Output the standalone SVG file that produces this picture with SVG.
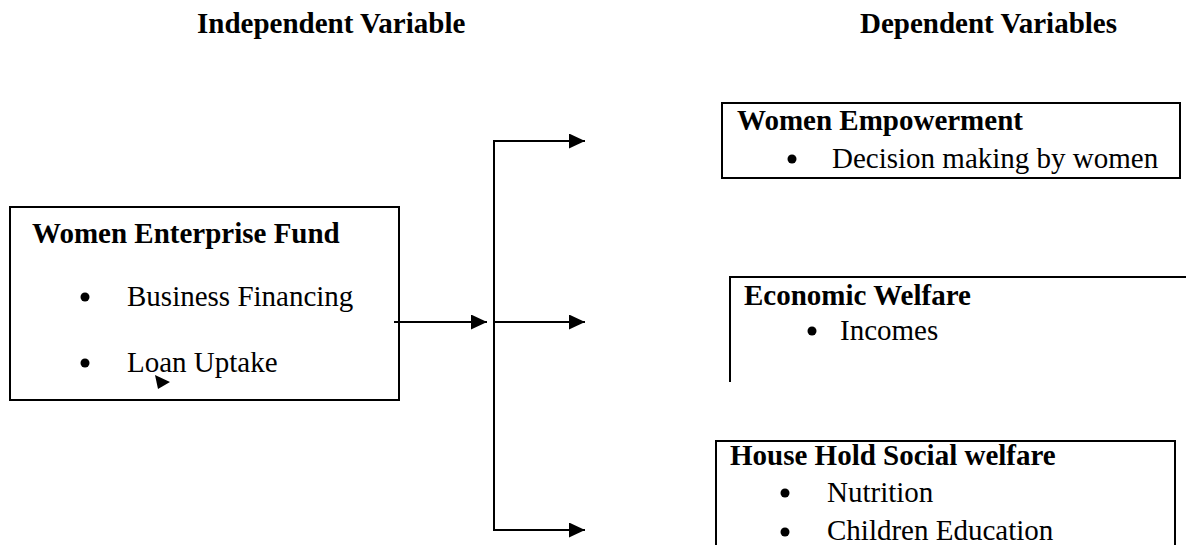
<svg xmlns="http://www.w3.org/2000/svg" width="1186" height="545" viewBox="0 0 1186 545">
<style>
text{font-family:"Liberation Serif","Times New Roman",serif;fill:#000;font-size:29px}
.b{font-weight:bold}
.box{fill:none;stroke:#000;stroke-width:2}
.ln{fill:none;stroke:#000;stroke-width:2}
</style>
<defs>
<marker id="ah" markerWidth="16" markerHeight="15" refX="16" refY="7.5" orient="auto" markerUnits="userSpaceOnUse">
<path d="M0,0 L16,7.5 L0,15 Z" fill="#000"/>
</marker>
</defs>
<rect width="1186" height="545" fill="#fff"/>
<g id="headers">
<text class="b" x="197" y="33">Independent Variable</text>
<text class="b" x="860" y="33">Dependent Variables</text>
</g>
<g id="wef">
<rect class="box" x="10" y="207" width="389" height="193"/>
<text class="b" x="32" y="243">Women Enterprise Fund</text>
<circle cx="85" cy="297" r="4.5"/>
<text x="127" y="306">Business Financing</text>
<circle cx="85" cy="363" r="4.5"/>
<text x="127" y="372">Loan Uptake</text>
<path d="M155,375 L170,382 L158,389 Z" fill="#000"/>
</g>
<g id="connectors">
<line class="ln" x1="394" y1="322" x2="487" y2="322" marker-end="url(#ah)"/>
<polyline class="ln" points="585,141 494,141 494,530 585,530" marker-end="url(#ah)"/>
<line class="ln" x1="494" y1="141" x2="585" y2="141" marker-end="url(#ah)"/>
<line class="ln" x1="494" y1="322" x2="585" y2="322" marker-end="url(#ah)"/>
</g>
<g id="empowerment">
<rect class="box" x="722" y="103" width="458" height="75"/>
<text class="b" x="737" y="130">Women Empowerment</text>
<circle cx="792" cy="159" r="4.5"/>
<text x="832" y="168">Decision making by women</text>
</g>
<g id="economic">
<polyline class="box" points="1186,277 730,277 730,382"/>
<text class="b" x="744" y="305">Economic Welfare</text>
<circle cx="812" cy="331" r="4.5"/>
<text x="840" y="340">Incomes</text>
</g>
<g id="household">
<polyline class="box" points="716,545 716,441 1175,441 1175,545"/>
<text class="b" x="730" y="465">House Hold Social welfare</text>
<circle cx="785" cy="493" r="4.5"/>
<text x="827" y="502">Nutrition</text>
<circle cx="785" cy="532" r="4.5"/>
<text x="827" y="540">Children Education</text>
</g>
</svg>
